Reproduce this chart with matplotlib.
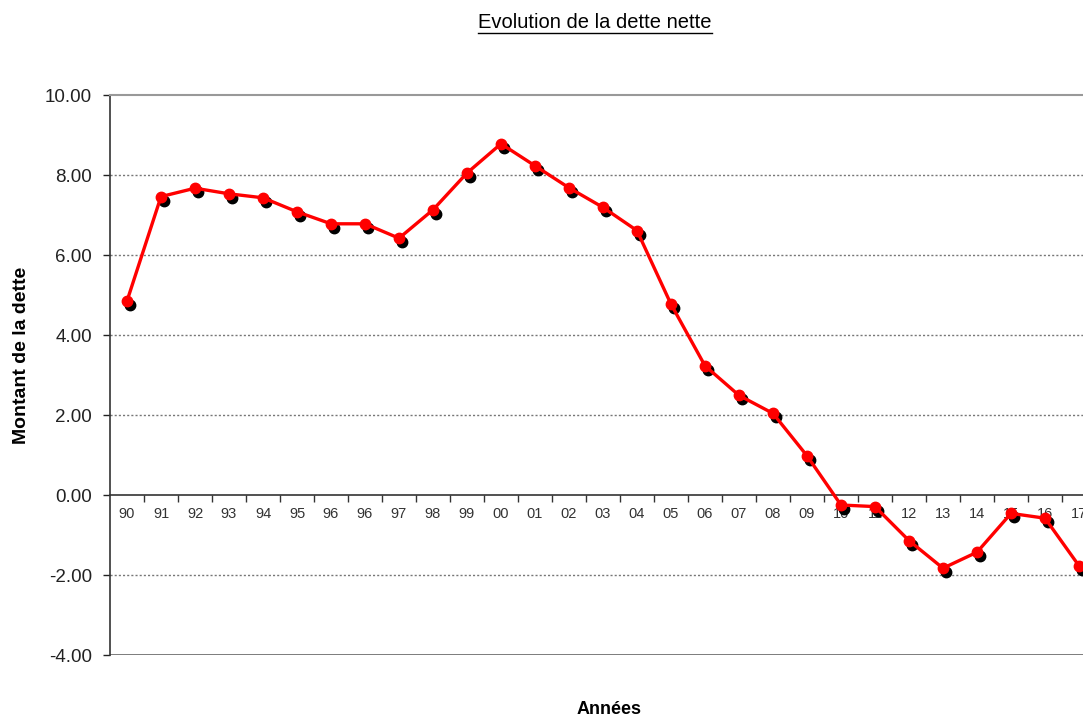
import matplotlib
matplotlib.use("Agg")
import matplotlib.pyplot as plt
import matplotlib.transforms as mtransforms
from matplotlib.lines import Line2D
from matplotlib.ticker import FixedLocator, FuncFormatter

plt.rcParams['font.family'] = ['Liberation Sans', 'DejaVu Sans']

# Data
annees = ["90", "91", "92", "93", "94", "95", "96", "96", "97", "98", "99",
          "00", "01", "02", "03", "04", "05", "06", "07", "08", "09",
          "10", "11", "12", "13", "14", "15", "16", "17"]
dette = [4.85, 7.46, 7.67, 7.53, 7.43, 7.08, 6.78, 6.78, 6.42, 7.13, 8.05,
         8.78, 8.23, 7.68, 7.19, 6.61, 4.77, 3.23, 2.49, 2.04, 0.98,
         -0.25, -0.29, -1.14, -1.83, -1.43, -0.46, -0.58, -1.77]
y_ticks = [-4, -2, 0, 2, 4, 6, 8, 10]

W, H = 1083, 718
fig = plt.figure(figsize=(W / 100, H / 100), dpi=100)
# axes runs past the right edge, like the original screenshot
ax = fig.add_axes([110 / W, (H - 655) / H, 986 / W, 560 / H])

x = list(range(len(dette)))

# black "shadow" dots, shifted down-right
shadow = mtransforms.offset_copy(ax.transData, fig=fig, x=3, y=-4, units='dots')
ax.plot(x, dette, 'o', color='black', markersize=7.5, transform=shadow, zorder=3)
ax.plot(x, dette, '-o', color='#ff0000', linewidth=2.4, markersize=7.5, zorder=4)

ax.set_xlim(-0.5, len(dette) - 0.5)
ax.set_ylim(-4, 10)

# y axis
ax.set_yticks(y_ticks)
ax.yaxis.set_major_formatter(FuncFormatter(lambda v, p: f"{v:.2f}"))
ax.tick_params(axis='y', direction='out', length=5, width=1, pad=8,
               labelsize=13.5, colors='#222222')
for v in y_ticks:
    if v in (-4, 0, 10):
        continue
    ax.axhline(v, color='#777777', linestyle=(0, (1.5, 1.5)), linewidth=1.0, zorder=1)

# x axis sits at zero
ax.spines['bottom'].set_position(('data', 0))
ax.spines['bottom'].set_color('#333333')
ax.spines['bottom'].set_linewidth(1.2)
ax.spines['left'].set_color('#333333')
ax.spines['left'].set_linewidth(1.2)
ax.spines['top'].set_color('#999999')
ax.spines['top'].set_linewidth(1.5)
ax.spines['right'].set_visible(False)
ax.axhline(-4, color='#555555', linewidth=1.8, zorder=2)

ax.set_xticks(x)
ax.set_xticklabels(annees)
ax.xaxis.set_minor_locator(FixedLocator([i + 0.5 for i in x]))
ax.tick_params(axis='x', which='major', length=0, pad=9, labelsize=10.5, colors='#333333')
ax.tick_params(axis='x', which='minor', direction='out', length=5, width=1, colors='#333333')

ax.set_ylabel("Montant de la dette", fontsize=14, fontweight='bold')
ax.yaxis.set_label_coords(-(110 - 30) / 986, (655 - 355) / 560)

fig.text(609 / W, 1 - 709 / H, "Années", ha='center', va='center',
         fontsize=13, fontweight='bold')

title = fig.text(595 / W, 1 - 22 / H, "Evolution de la dette nette",
                 ha='center', va='center', fontsize=14.5)
fig.canvas.draw()
bb = title.get_window_extent()
fig.add_artist(Line2D([bb.x0 / W, bb.x1 / W], [(bb.y0 - 1) / H, (bb.y0 - 1) / H],
                      color='black', linewidth=1, transform=fig.transFigure))

fig.savefig("out.png", dpi=100)
